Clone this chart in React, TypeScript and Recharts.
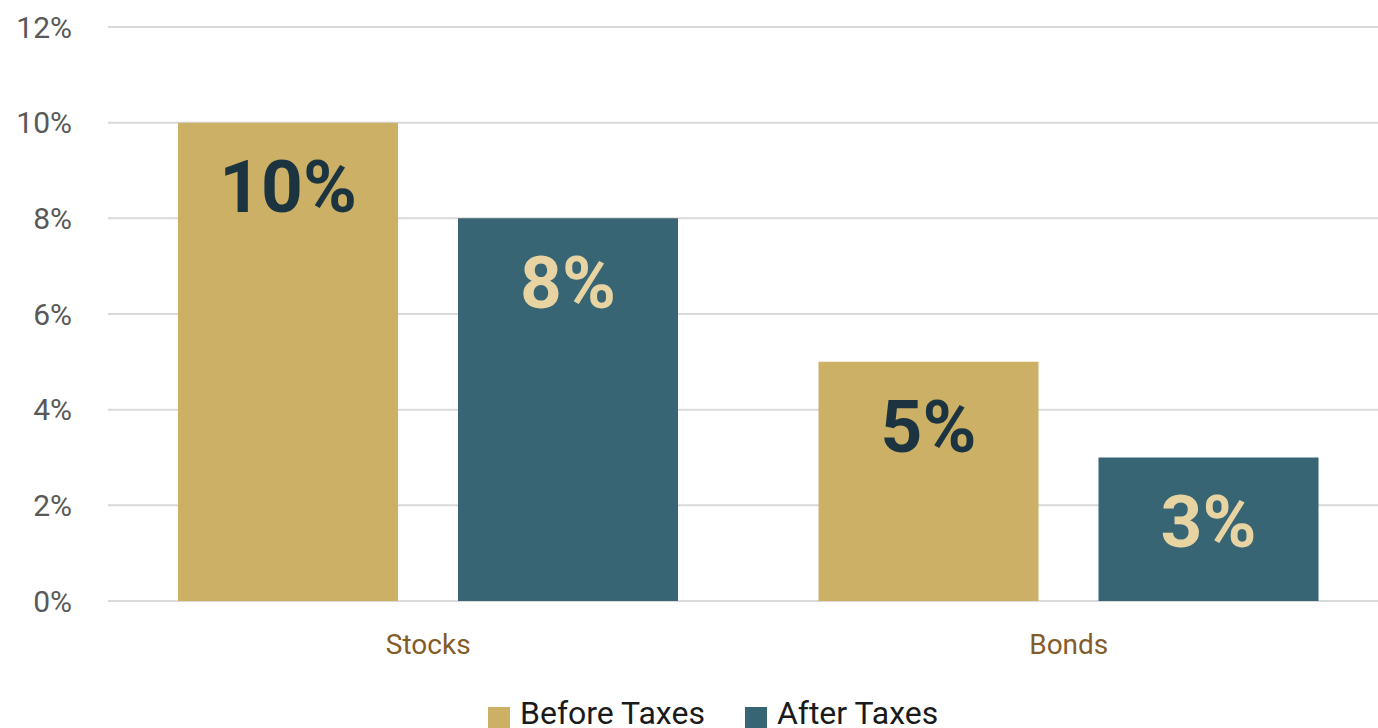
import React from "react";
import {
  BarChart,
  Bar,
  XAxis,
  YAxis,
  CartesianGrid,
  Legend,
  LabelList,
} from "recharts";

const categories = ["Stocks", "Bonds"];
const beforeTaxes = [10, 5];
const afterTaxes = [8, 3];
const yTicks = [0, 2, 4, 6, 8, 10, 12];
const seriesNames = ["Before Taxes", "After Taxes"];

const GOLD = "#CBB065";
const TEAL = "#376574";
const DARK_LABEL = "#1C3440";
const LIGHT_LABEL = "#E8D4A2";

const data = categories.map((name, i) => ({
  name,
  before: beforeTaxes[i],
  after: afterTaxes[i],
}));

const fmtPct = (v: number) => `${v}%`;

function LegendContent(props: any) {
  // keep the series order, recharts sorts by name otherwise
  const items = [...(props.payload || [])].sort(
    (a: any, b: any) => seriesNames.indexOf(a.value) - seriesNames.indexOf(b.value)
  );
  return (
    <div style={{ display: "flex", marginLeft: 488, lineHeight: "36px", fontSize: 32, color: "#1a1a1a", fontFamily: "Roboto" }}>
      {items.map((it: any, i: number) => (
        <div key={`leg-${i}`} style={{ display: "flex", alignItems: "flex-start", marginRight: 40 }}>
          <span style={{ display: "inline-block", width: 22, height: 22, background: it.color, marginTop: 12, marginRight: 10 }} />
          <span>{it.value}</span>
        </div>
      ))}
    </div>
  );
}

export default function App() {
  return (
    <div style={{ position: "absolute", left: 0, top: 0, width: 1378, height: 728, overflow: "hidden", background: "#fff", fontFamily: "Roboto" }}>
      <BarChart
        width={1389}
        height={728}
        data={data}
        margin={{ top: 27, right: 0, bottom: 0, left: 0 }}
        barSize={220}
        barGap={60}
        barCategoryGap={70}
      >
        <CartesianGrid vertical={false} stroke="#D9D9D9" strokeWidth={2} />
        <XAxis
          dataKey="name"
          height={127}
          axisLine={false}
          tickLine={false}
          tickSize={0}
          tickMargin={33}
          tick={{ fill: "#845C2A", fontSize: 28, fontFamily: "Roboto" }}
        />
        <YAxis
          width={108}
          domain={[0, 12]}
          ticks={yTicks}
          tickFormatter={fmtPct}
          axisLine={false}
          tickLine={false}
          tickSize={0}
          tickMargin={36}
          tick={{ fill: "#595959", fontSize: 30, fontFamily: "Roboto" }}
        />
        <Legend
          layout="horizontal"
          verticalAlign="middle"
          content={<LegendContent />}
          wrapperStyle={{ top: 695, left: 0, width: 1378, bottom: "auto" }}
        />
        <Bar dataKey="before" name="Before Taxes" fill={GOLD} isAnimationActive={false}>
          <LabelList
            dataKey="before"
            position="insideTop"
            offset={38}
            formatter={fmtPct}
            fill={DARK_LABEL}
            fontSize={73}
            fontWeight="bold"
            fontFamily="Roboto"
          />
        </Bar>
        <Bar dataKey="after" name="After Taxes" fill={TEAL} isAnimationActive={false}>
          <LabelList
            dataKey="after"
            position="insideTop"
            offset={38}
            formatter={fmtPct}
            fill={LIGHT_LABEL}
            fontSize={73}
            fontWeight="bold"
            fontFamily="Roboto"
          />
        </Bar>
      </BarChart>
    </div>
  );
}
